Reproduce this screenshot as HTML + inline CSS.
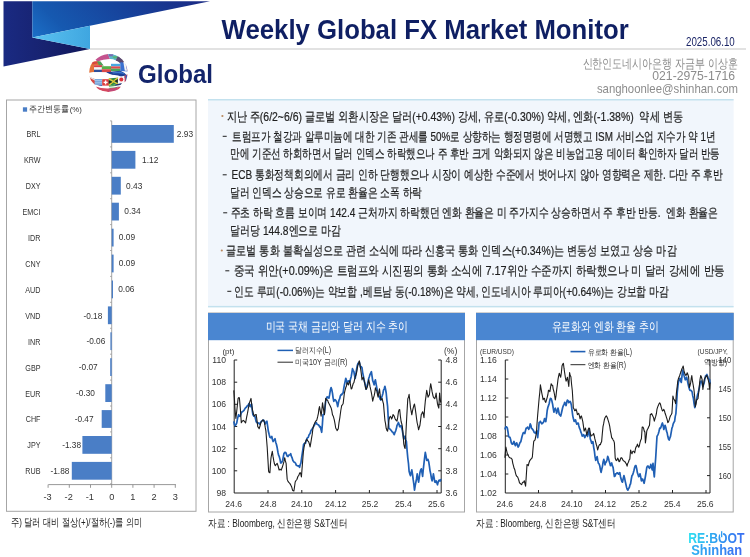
<!DOCTYPE html>
<html lang="ko">
<head>
<meta charset="utf-8">
<title>Weekly Global FX Market Monitor</title>
<style>
html,body{margin:0;padding:0;background:#fff;}
body{width:750px;height:557px;position:relative;overflow:hidden;font-family:"Liberation Sans",sans-serif;}
svg{position:absolute;left:0;top:0;display:block;filter:blur(0.45px);}
svg text{font-family:"Liberation Sans",sans-serif;}
</style>
</head>
<body>
<svg width="750" height="557" viewBox="0 0 750 557">
  <defs>
    <linearGradient id="gmid" gradientUnits="userSpaceOnUse" x1="32" y1="37" x2="132" y2="-63">
      <stop offset="0" stop-color="#1c70c8"/>
      <stop offset="0.2" stop-color="#1659b0"/>
      <stop offset="0.6" stop-color="#17429b"/>
      <stop offset="1" stop-color="#1a2c86"/>
    </linearGradient>
    <linearGradient id="gnavy" x1="0" y1="0" x2="1" y2="0">
      <stop offset="0" stop-color="#1a2a82"/>
      <stop offset="0.5" stop-color="#17226f"/>
      <stop offset="1" stop-color="#0f1558"/>
    </linearGradient>
    <linearGradient id="glight" x1="0" y1="0" x2="1" y2="0">
      <stop offset="0" stop-color="#5cc3f1"/>
      <stop offset="1" stop-color="#3fa6e0"/>
    </linearGradient>
    <linearGradient id="greboot" gradientUnits="userSpaceOnUse" x1="688" y1="0" x2="745" y2="0">
      <stop offset="0" stop-color="#2ee3f2"/>
      <stop offset="0.5" stop-color="#2f9df0"/>
      <stop offset="1" stop-color="#3a6cf2"/>
    </linearGradient>
    <linearGradient id="gshin" gradientUnits="userSpaceOnUse" x1="690" y1="0" x2="743" y2="0">
      <stop offset="0" stop-color="#2fb4f2"/>
      <stop offset="1" stop-color="#3a6cf2"/>
    </linearGradient>
    <clipPath id="globeclip"><circle cx="108.4" cy="72.8" r="19.2"/></clipPath>
    <filter id="soft" x="-10%" y="-10%" width="120%" height="120%"><feGaussianBlur stdDeviation="0.6"/></filter>
  </defs>

  <!-- header decoration -->
  <polygon points="3.5,1.2 32.3,1.2 32.3,37.6 90,49 3.5,66.4" fill="url(#gnavy)"/>
  <polygon points="32.3,1.2 210,1.2 90,25.8 32.3,37.6" fill="url(#gmid)"/>
  <polygon points="32.3,37.6 90,25.8 90,49" fill="url(#glight)"/>
  <rect x="90" y="48" width="656" height="2" fill="#e2e2e2"/>

<text x="221.6" y="38.6" font-size="27" fill="#0f1f63" font-weight="bold" textLength="407.2" lengthAdjust="spacingAndGlyphs" xml:space="preserve">Weekly Global FX Market Monitor</text>
<text x="686" y="45.7" font-size="13" fill="#1a2466" textLength="48.8" lengthAdjust="spacingAndGlyphs" xml:space="preserve">2025.06.10</text>
<text x="138" y="82.5" font-size="26.5" fill="#13246b" font-weight="bold" textLength="75" lengthAdjust="spacingAndGlyphs" xml:space="preserve">Global</text>
<text x="582.5" y="67.6" font-size="12.6" fill="#8c8c8c" textLength="155.0" lengthAdjust="spacingAndGlyphs" xml:space="preserve">신한인도네시아은행 자금부 이상훈</text>
<text x="652.3" y="80" font-size="13" fill="#8c8c8c" textLength="82.8" lengthAdjust="spacingAndGlyphs" xml:space="preserve">021-2975-1716</text>
<text x="596.9" y="92.6" font-size="13" fill="#8c8c8c" textLength="141.1" lengthAdjust="spacingAndGlyphs" xml:space="preserve">sanghoonlee@shinhan.com</text>

  <!-- globe -->
  <g clip-path="url(#globeclip)" filter="url(#soft)">
    <rect x="88" y="52" width="42" height="42" fill="#fff"/>
    <!-- band 1 : top ribbon -->
    <path d="M95.5,59.8 Q100,55 108,54 L110,59 Q103,59 97.5,61.6 Z" fill="#c4528e"/>
    <path d="M108,54 Q113,53.8 118,56 L116,60.4 Q113,59 110,59 Z" fill="#5ab4c8"/>
    <path d="M109,54.2 L113.5,54.3 L112.5,56.3 L108.5,56.2 Z" fill="#7a6ab0"/>
    <path d="M112,56.5 L117,56 L118.5,58 L114,58.6 Z" fill="#58b478"/>
    <path d="M115.6,60.4 L118,56 Q123,58.5 125.5,63 L120.4,63.5 Q118.6,61.4 115.6,60.4 Z" fill="#5a4870"/>
    <!-- band 2 : middle -->
    <path d="M89,66 Q90.5,62.5 94,61.6 L100,61.2 L103.5,65.3 L94,65.3 L94,72 L88.5,72.8 Z" fill="#e4723a"/>
    <path d="M92,62.3 L97,61.3 L98,63.3 L92.5,64.6 Z" fill="#d8453f"/>
    <path d="M97,61.3 L101,61.3 L104,65.4 L99,65.4 Z" fill="#4f9f58"/>
    <rect x="94" y="65.2" width="8" height="2.2" fill="#d9404a"/>
    <rect x="94" y="67.4" width="8" height="2.3" fill="#f4f4f4"/>
    <rect x="94" y="69.7" width="8" height="2.4" fill="#2f4f9a"/>
    <rect x="101.8" y="66.2" width="9.2" height="3" fill="#58b04a"/>
    <rect x="101.8" y="69.2" width="9.2" height="3.1" fill="#d9484a"/>
    <rect x="110.9" y="63.6" width="9.6" height="2.8" fill="#4aa8e0"/>
    <rect x="110.9" y="66.4" width="9.6" height="2.3" fill="#e0484f"/>
    <rect x="110.9" y="68.7" width="9.6" height="2.5" fill="#48a85a"/>
    <path d="M120.4,62 L128,63.5 L128.5,71.5 L120.4,70.9 Z" fill="#3a6fd0"/>
    <path d="M123.3,61.8 L125.3,62 L127,70.8 L124.8,70.8 Z" fill="#f4f4f4"/>
    <path d="M126,63 L128.5,64 L128.5,71 L127.3,70.5 Z" fill="#d84a5a"/>
    <!-- band 3 : dark blue swoosh -->
    <path d="M106,72.2 L120.4,70.8 Q125,72.5 128.5,77 L124,78.2 Q118,74.5 110,74.8 Z" fill="#1f3f96"/>
    <path d="M112,72.4 L120,71.6 Q123,72.5 125.5,74.5 Q120,72.8 113,73.6 Z" fill="#3a78d0"/>
    <!-- band 4 : lower -->
    <path d="M88.6,76 Q91,77.3 95,79 L95,84.6 Q91,82 88.6,76 Z" fill="#d84a44"/>
    <path d="M89.5,76.5 Q92,77.6 95,79 L95,80.4 Q92,79.4 90,78 Z" fill="#e8e0e0"/>
    <rect x="94.7" y="79" width="7.6" height="5.8" fill="#7aa8dc"/>
    <rect x="94.7" y="80.2" width="7.6" height="0.8" fill="#a8c8ec"/>
    <rect x="94.7" y="82.4" width="7.6" height="0.8" fill="#a8c8ec"/>
    <rect x="102.2" y="79.2" width="6.7" height="6.4" fill="#de3b3b"/>
    <rect x="104.9" y="80.4" width="1.4" height="4" fill="#fff"/>
    <rect x="103.6" y="81.7" width="4" height="1.4" fill="#fff"/>
    <path d="M108.8,78.6 L118,77.6 L118,84.3 L108.8,85.4 Z" fill="#2f8a45"/>
    <path d="M108.8,78.6 L118,84.3 M108.8,85.4 L118,77.6" stroke="#e9c93a" stroke-width="1.3"/>
    <path d="M108.8,80.6 L112.4,82 L108.8,83.6 Z M118,79.2 L114.4,81 L118,82.8 Z" fill="#222"/>
    <path d="M117.9,77 L124.6,75.8 L124.6,82.2 L117.9,83.6 Z" fill="#f8f8f8"/>
    <circle cx="121.3" cy="79.6" r="2" fill="#e0303a"/>
    <path d="M124.6,75.6 L128.5,74 L128.5,80 L124.6,82.2 Z" fill="#d84050"/>
    <path d="M125.6,75.4 L127,74.8 L127,80.8 L125.6,81.4 Z" fill="#3a5ab0"/>
    <path d="M96,84.8 L102.2,84.8 L102.2,86 Q99,86 96,84.8 Z" fill="#4a6ab0"/>
    <path d="M108.8,85.4 L118.6,84 L117,88.6 L109.5,89 Z" fill="#4f9f58"/>
    <path d="M115.5,84.4 L122,83 L119.5,86.5 L115,87.2 Z" fill="#2a3570"/>
    <!-- band 5 : bottom -->
    <path d="M95.8,86.6 Q106,90.6 121,86.6 L118.5,90 Q107,94 98.5,89.8 Z" fill="#d64a60"/>
    <path d="M108,89.6 L117,87.8 L116,90.4 L108.5,91.6 Z" fill="#c04a7a"/>
    <!-- white gaps -->
    <path d="M98.6,61.2 Q106,58.6 115.6,60.4 L120,63.4 L110.9,63.4 L110.9,66 L104,66 L100.5,61.2 Z" fill="#fff"/>
    <path d="M88,73.4 Q96,71.6 106,72.6 Q112,75 118,77.3 Q108,78 95,78.6 Q91,77.4 88,75.6 Z" fill="#fff"/>
    <path d="M95.5,85.6 Q106,89.4 121.5,85.4" stroke="#fff" stroke-width="1.1" fill="none"/>
  </g>


  <!-- bar chart -->
  <rect x="6.5" y="100" width="189.5" height="411.3" fill="#fff" stroke="#a6a6a6" stroke-width="1"/>
  <rect x="22.9" y="107.3" width="4.2" height="4.4" fill="#4a7ec6"/>

<text x="29.3" y="112.3" font-size="9" fill="#333" textLength="40.2" lengthAdjust="spacingAndGlyphs" xml:space="preserve">주간변동률</text>
<text x="69.7" y="112.3" font-size="7.6" fill="#333" textLength="12.1" lengthAdjust="spacingAndGlyphs" xml:space="preserve">(%)</text>
  <line x1="111.7" y1="120.8" x2="111.7" y2="484.6" stroke="#9a9a9a" stroke-width="0.9"/>
  <g fill="#4a7ec6">
    <rect x="111.7" y="125.0" width="62.1" height="17.8"/>
    <rect x="111.7" y="150.9" width="23.7" height="17.8"/>
    <rect x="111.7" y="176.8" width="9.1" height="17.8"/>
    <rect x="111.7" y="202.7" width="7.2" height="17.8"/>
    <rect x="111.7" y="228.7" width="1.9" height="17.8"/>
    <rect x="111.7" y="254.6" width="1.9" height="17.8"/>
    <rect x="111.7" y="280.5" width="1.3" height="17.8"/>
    <rect x="107.9" y="306.4" width="3.8" height="17.8"/>
    <rect x="110.4" y="332.3" width="1.3" height="17.8"/>
    <rect x="110.2" y="358.2" width="1.5" height="17.8"/>
    <rect x="105.3" y="384.2" width="6.4" height="17.8"/>
    <rect x="101.7" y="410.1" width="10.0" height="17.8"/>
    <rect x="82.4" y="436.0" width="29.3" height="17.8"/>
    <rect x="71.8" y="461.9" width="39.9" height="17.8"/>
  </g>
  <g font-size="9.2" fill="#333" text-anchor="end">
    <text x="26.5" y="137.3" font-size="9.5" fill="#333" textLength="14.0" lengthAdjust="spacingAndGlyphs" text-anchor="start" xml:space="preserve">BRL</text>
    <text x="23.9" y="163.2" font-size="9.5" fill="#333" textLength="16.6" lengthAdjust="spacingAndGlyphs" text-anchor="start" xml:space="preserve">KRW</text>
    <text x="25.7" y="189.1" font-size="9.5" fill="#333" textLength="14.8" lengthAdjust="spacingAndGlyphs" text-anchor="start" xml:space="preserve">DXY</text>
    <text x="22.6" y="215.0" font-size="9.5" fill="#333" textLength="17.9" lengthAdjust="spacingAndGlyphs" text-anchor="start" xml:space="preserve">EMCI</text>
    <text x="28.1" y="241.0" font-size="9.5" fill="#333" textLength="12.4" lengthAdjust="spacingAndGlyphs" text-anchor="start" xml:space="preserve">IDR</text>
    <text x="25.3" y="266.9" font-size="9.5" fill="#333" textLength="15.2" lengthAdjust="spacingAndGlyphs" text-anchor="start" xml:space="preserve">CNY</text>
    <text x="25.3" y="292.8" font-size="9.5" fill="#333" textLength="15.2" lengthAdjust="spacingAndGlyphs" text-anchor="start" xml:space="preserve">AUD</text>
    <text x="25.3" y="318.7" font-size="9.5" fill="#333" textLength="15.2" lengthAdjust="spacingAndGlyphs" text-anchor="start" xml:space="preserve">VND</text>
    <text x="28.1" y="344.6" font-size="9.5" fill="#333" textLength="12.4" lengthAdjust="spacingAndGlyphs" text-anchor="start" xml:space="preserve">INR</text>
    <text x="25.3" y="370.5" font-size="9.5" fill="#333" textLength="15.2" lengthAdjust="spacingAndGlyphs" text-anchor="start" xml:space="preserve">GBP</text>
    <text x="25.3" y="396.5" font-size="9.5" fill="#333" textLength="15.2" lengthAdjust="spacingAndGlyphs" text-anchor="start" xml:space="preserve">EUR</text>
    <text x="25.8" y="422.4" font-size="9.5" fill="#333" textLength="14.7" lengthAdjust="spacingAndGlyphs" text-anchor="start" xml:space="preserve">CHF</text>
    <text x="27.3" y="448.3" font-size="9.5" fill="#333" textLength="13.2" lengthAdjust="spacingAndGlyphs" text-anchor="start" xml:space="preserve">JPY</text>
    <text x="25.3" y="474.2" font-size="9.5" fill="#333" textLength="15.2" lengthAdjust="spacingAndGlyphs" text-anchor="start" xml:space="preserve">RUB</text>
  </g>
<text x="176.8" y="136.7" font-size="9.6" fill="#333" textLength="16.3" lengthAdjust="spacingAndGlyphs" xml:space="preserve">2.93</text>
<text x="142" y="162.6" font-size="9.6" fill="#333" textLength="16.3" lengthAdjust="spacingAndGlyphs" xml:space="preserve">1.12</text>
<text x="126" y="188.5" font-size="9.6" fill="#333" textLength="16.3" lengthAdjust="spacingAndGlyphs" xml:space="preserve">0.43</text>
<text x="124.3" y="214.4" font-size="9.6" fill="#333" textLength="16.3" lengthAdjust="spacingAndGlyphs" xml:space="preserve">0.34</text>
<text x="118.8" y="240.4" font-size="9.6" fill="#333" textLength="16.3" lengthAdjust="spacingAndGlyphs" xml:space="preserve">0.09</text>
<text x="118.8" y="266.3" font-size="9.6" fill="#333" textLength="16.3" lengthAdjust="spacingAndGlyphs" xml:space="preserve">0.09</text>
<text x="118.2" y="292.2" font-size="9.6" fill="#333" textLength="16.3" lengthAdjust="spacingAndGlyphs" xml:space="preserve">0.06</text>
<text x="83.4" y="318.5" font-size="9.6" fill="#333" textLength="18.9" lengthAdjust="spacingAndGlyphs" xml:space="preserve">-0.18</text>
<text x="86.4" y="344.4" font-size="9.6" fill="#333" textLength="18.9" lengthAdjust="spacingAndGlyphs" xml:space="preserve">-0.06</text>
<text x="78.80000000000001" y="370.3" font-size="9.6" fill="#333" textLength="18.9" lengthAdjust="spacingAndGlyphs" xml:space="preserve">-0.07</text>
<text x="76.0" y="396.3" font-size="9.6" fill="#333" textLength="18.9" lengthAdjust="spacingAndGlyphs" xml:space="preserve">-0.30</text>
<text x="74.69999999999999" y="422.2" font-size="9.6" fill="#333" textLength="18.9" lengthAdjust="spacingAndGlyphs" xml:space="preserve">-0.47</text>
<text x="62.199999999999996" y="448.1" font-size="9.6" fill="#333" textLength="18.9" lengthAdjust="spacingAndGlyphs" xml:space="preserve">-1.38</text>
<text x="50.50000000000001" y="474.0" font-size="9.6" fill="#333" textLength="18.9" lengthAdjust="spacingAndGlyphs" xml:space="preserve">-1.88</text>
  <g stroke="#9a9a9a" stroke-width="0.8">
    <line x1="110" y1="120.9" x2="111.7" y2="120.9"/>
    <line x1="110" y1="146.9" x2="111.7" y2="146.9"/>
    <line x1="110" y1="172.8" x2="111.7" y2="172.8"/>
    <line x1="110" y1="198.7" x2="111.7" y2="198.7"/>
    <line x1="110" y1="224.6" x2="111.7" y2="224.6"/>
    <line x1="110" y1="250.5" x2="111.7" y2="250.5"/>
    <line x1="110" y1="276.4" x2="111.7" y2="276.4"/>
    <line x1="110" y1="302.3" x2="111.7" y2="302.3"/>
    <line x1="110" y1="328.3" x2="111.7" y2="328.3"/>
    <line x1="110" y1="354.2" x2="111.7" y2="354.2"/>
    <line x1="110" y1="380.1" x2="111.7" y2="380.1"/>
    <line x1="110" y1="406.0" x2="111.7" y2="406.0"/>
    <line x1="110" y1="431.9" x2="111.7" y2="431.9"/>
    <line x1="110" y1="457.8" x2="111.7" y2="457.8"/>
    <line x1="110" y1="483.8" x2="111.7" y2="483.8"/>
  </g>
  <g>
  </g>
  <line x1="48.3" y1="484.6" x2="175.9" y2="484.6" stroke="#8c8c8c" stroke-width="0.9"/>
  <g stroke="#8c8c8c" stroke-width="0.9">
    <line x1="48.1" y1="484.6" x2="48.1" y2="487.8"/>
    <line x1="69.3" y1="484.6" x2="69.3" y2="487.8"/>
    <line x1="90.5" y1="484.6" x2="90.5" y2="487.8"/>
    <line x1="111.7" y1="484.6" x2="111.7" y2="487.8"/>
    <line x1="132.9" y1="484.6" x2="132.9" y2="487.8"/>
    <line x1="154.1" y1="484.6" x2="154.1" y2="487.8"/>
    <line x1="175.3" y1="484.6" x2="175.3" y2="487.8"/>
  </g>
  <g font-size="9.2" fill="#333" text-anchor="middle">
    <text x="47.5" y="500.3">-3</text>
    <text x="68.7" y="500.3">-2</text>
    <text x="89.9" y="500.3">-1</text>
    <text x="111.7" y="500.3">0</text>
    <text x="132.9" y="500.3">1</text>
    <text x="154.1" y="500.3">2</text>
    <text x="175.3" y="500.3">3</text>
  </g>
<text x="10.8" y="525.8" font-size="10.5" fill="#222" textLength="131.5" lengthAdjust="spacingAndGlyphs" xml:space="preserve">주) 달러 대비 절상(+)/절하(-)를 의미</text>

  <!-- text box -->
  <rect x="208" y="99" width="525.6" height="208" fill="#f1f6fc"/>
  <rect x="208" y="99" width="525.6" height="1.5" fill="#c3e1ee"/>
  <rect x="208" y="305.9" width="525.6" height="1.5" fill="#c3e1ee"/>

<text x="226.5" y="120.7" font-size="13.4" fill="#1f1f1f" textLength="456.5" lengthAdjust="spacingAndGlyphs" stroke="#1f1f1f" stroke-width="0.22" xml:space="preserve">지난 주(6/2~6/6) 글로벌 외환시장은 달러(+0.43%) 강세, 유로(-0.30%) 약세, 엔화(-1.38%)  약세 변동</text>
  <circle cx="222.4" cy="116" r="1.1" fill="#b9895f"/>
<text x="232" y="140.7" font-size="13.4" fill="#1f1f1f" textLength="483.6" lengthAdjust="spacingAndGlyphs" stroke="#1f1f1f" stroke-width="0.22" xml:space="preserve">트럼프가 철강과 알루미늄에 대한 기존 관세를 50%로 상향하는 행정명령에 서명했고 ISM 서비스업 지수가 약 1년</text>
  <rect x="222.7" y="135.8" width="4" height="1" fill="#1f1f1f"/>
<text x="230.2" y="158.2" font-size="13.4" fill="#1f1f1f" textLength="489.8" lengthAdjust="spacingAndGlyphs" stroke="#1f1f1f" stroke-width="0.22" xml:space="preserve">만에 기준선 하회하면서 달러 인덱스 하락했으나 주 후반 크게 악화되지 않은 비농업고용 데이터 확인하자 달러 반등</text>
<text x="231.5" y="179.2" font-size="13.4" fill="#1f1f1f" textLength="491.5" lengthAdjust="spacingAndGlyphs" stroke="#1f1f1f" stroke-width="0.22" xml:space="preserve">ECB 통화정책회의에서 금리 인하 단행했으나 시장이 예상한 수준에서 벗어나지 않아 영향력은 제한. 다만 주 후반</text>
  <rect x="222.7" y="174.3" width="4" height="1" fill="#1f1f1f"/>
<text x="230" y="197.2" font-size="13.4" fill="#1f1f1f" textLength="192" lengthAdjust="spacingAndGlyphs" stroke="#1f1f1f" stroke-width="0.22" xml:space="preserve">달러 인덱스 상승으로 유로 환율은 소폭 하락</text>
<text x="230.7" y="217.2" font-size="13.4" fill="#1f1f1f" textLength="487.3" lengthAdjust="spacingAndGlyphs" stroke="#1f1f1f" stroke-width="0.22" xml:space="preserve">주초 하락 흐름 보이며 142.4 근처까지 하락했던 엔화 환율은 미 주가지수 상승하면서 주 후반 반등.  엔화 환율은</text>
  <rect x="223.2" y="212.3" width="4" height="1" fill="#1f1f1f"/>
<text x="230.3" y="234.7" font-size="13.4" fill="#1f1f1f" textLength="110.7" lengthAdjust="spacingAndGlyphs" stroke="#1f1f1f" stroke-width="0.22" xml:space="preserve">달러당 144.8엔으로 마감</text>
<text x="226.3" y="255.2" font-size="13.4" fill="#1f1f1f" textLength="450.3" lengthAdjust="spacingAndGlyphs" stroke="#1f1f1f" stroke-width="0.22" xml:space="preserve">글로벌 통화 불확실성으로 관련 소식에 따라 신흥국 통화 인덱스(+0.34%)는 변동성 보였고 상승 마감</text>
  <circle cx="221.8" cy="250.5" r="1.1" fill="#b9895f"/>
<text x="233.6" y="275.2" font-size="13.4" fill="#1f1f1f" textLength="491.0" lengthAdjust="spacingAndGlyphs" stroke="#1f1f1f" stroke-width="0.22" xml:space="preserve">중국 위안(+0.09%)은 트럼프와 시진핑의 통화 소식에 7.17위안 수준까지 하락했으나 미 달러 강세에 반등</text>
  <rect x="225.3" y="270.3" width="4" height="1" fill="#1f1f1f"/>
<text x="234.2" y="295.7" font-size="13.4" fill="#1f1f1f" textLength="434.4" lengthAdjust="spacingAndGlyphs" stroke="#1f1f1f" stroke-width="0.22" xml:space="preserve">인도 루피(-0.06%)는 약보합 ,베트남 동(-0.18%)은 약세, 인도네시아 루피아(+0.64%)는 강보합 마감</text>
  <rect x="227.3" y="290.8" width="4" height="1" fill="#1f1f1f"/>

  <!-- chart 1 -->
  <rect x="208.5" y="313" width="256" height="199" fill="#fff" stroke="#a6a6a6" stroke-width="1"/>
  <rect x="208" y="313" width="257" height="27.2" fill="#4a86d1"/>

<text x="265.5" y="330.6" font-size="12.6" fill="#ffffff" textLength="142.5" lengthAdjust="spacingAndGlyphs" xml:space="preserve">미국 국채 금리와 달러 지수 추이</text>
  <g font-size="8.6" fill="#333">
    <text x="222.4" y="354" font-size="8">(pt)</text>
    <text x="444" y="354">(%)</text>
    <g text-anchor="end">
      <text x="226" y="363.0">110</text>
      <text x="226" y="385.2">108</text>
      <text x="226" y="407.3">106</text>
      <text x="226" y="429.5">104</text>
      <text x="226" y="451.7">102</text>
      <text x="226" y="473.9">100</text>
      <text x="226" y="496.0">98</text>
    </g>
    <text x="445.5" y="363.0">4.8</text>
    <text x="445.5" y="385.2">4.6</text>
    <text x="445.5" y="407.3">4.4</text>
    <text x="445.5" y="429.5">4.2</text>
    <text x="445.5" y="451.7">4.0</text>
    <text x="445.5" y="473.9">3.8</text>
    <text x="445.5" y="496.0">3.6</text>
    <g text-anchor="middle">
      <text x="233.7" y="507.3">24.6</text>
      <text x="268.2" y="507.3">24.8</text>
      <text x="301.8" y="507.3">24.10</text>
      <text x="335.8" y="507.3">24.12</text>
      <text x="370" y="507.3">25.2</text>
      <text x="403.4" y="507.3">25.4</text>
      <text x="436.4" y="507.3">25.6</text>
    </g>
  </g>
<text x="295" y="353.4" font-size="8.2" fill="#333" textLength="36" lengthAdjust="spacingAndGlyphs" xml:space="preserve">달러지수(L)</text>
<text x="295" y="365.3" font-size="8.2" fill="#333" textLength="52.5" lengthAdjust="spacingAndGlyphs" xml:space="preserve">미국10Y 금리(R)</text>
  <g stroke="#222" stroke-width="1" fill="none">
    <path d="M234.2,360 V493 H441.2 V360"/>
    <path d="M234.2,360 h3 M234.2,382.2 h3 M234.2,404.3 h3 M234.2,426.5 h3 M234.2,448.7 h3 M234.2,470.8 h3"/>
    <path d="M441.2,360 h-3 M441.2,382.2 h-3 M441.2,404.3 h-3 M441.2,426.5 h-3 M441.2,448.7 h-3 M441.2,470.8 h-3"/>
    <path d="M268,493 v-3 M301.8,493 v-3 M335.6,493 v-3 M369.4,493 v-3 M403.2,493 v-3 M437,493 v-3"/>
  </g>
  <line x1="277.5" y1="350.4" x2="293" y2="350.4" stroke="#1f5fb4" stroke-width="1.5"/>
  <line x1="277.5" y1="362.2" x2="293" y2="362.2" stroke="#2a2a2a" stroke-width="1"/>
  <polyline points="233.8,421.4 234.4,424.2 234.9,425.6 235.8,424.8 236.7,423.1 237.6,418.3 238.6,414.7 239.4,416.2 240.2,416.3 241.1,413.4 242.1,411.8 243.1,411.2 244.0,410.4 244.8,408.9 245.6,407.7 246.6,407.0 247.5,405.5 248.2,405.3 248.9,403.7 249.6,405.6 250.2,406.7 250.9,404.6 251.6,404.1 252.2,410.1 252.9,414.5 253.9,416.2 254.8,416.0 255.5,418.7 256.2,421.7 257.0,422.7 257.8,422.6 258.8,423.3 259.7,424.1 260.6,422.5 261.5,421.2 262.6,420.4 263.7,420.2 264.4,421.2 265.0,424.1 265.9,422.6 266.9,421.1 267.6,425.8 268.3,431.0 269.1,434.3 269.9,437.3 270.9,437.8 271.8,436.5 272.5,439.8 273.1,441.5 274.1,439.9 275.0,438.7 275.7,442.2 276.4,444.3 277.2,447.8 278.0,452.5 278.6,455.2 279.3,456.7 280.0,459.4 280.7,463.0 281.6,462.6 282.6,460.5 283.2,457.5 283.9,453.6 284.9,452.4 285.8,452.6 286.5,454.4 287.2,456.2 288.0,456.6 288.8,455.2 289.8,455.0 290.7,453.6 291.4,456.4 292.0,457.5 292.9,460.5 293.9,461.9 294.7,462.3 295.5,463.2 296.4,465.3 297.4,465.8 298.5,465.9 299.6,467.3 300.2,464.8 300.9,463.0 301.6,457.9 302.3,453.5 303.0,448.6 303.6,444.3 304.6,443.3 305.5,443.2 306.1,440.6 306.8,439.0 307.5,437.7 308.2,437.5 309.1,434.7 310.1,433.5 310.9,430.7 311.7,429.6 312.6,428.2 313.6,426.6 314.6,424.8 315.5,423.1 316.3,422.7 317.1,424.3 318.1,424.7 319.0,425.5 319.6,426.8 320.3,426.7 321.0,429.5 321.7,432.3 322.4,424.3 323.0,414.6 323.7,414.6 324.4,413.5 325.0,407.5 325.7,401.1 326.4,398.9 327.1,396.9 328.0,397.2 328.9,398.2 329.6,394.9 330.3,390.3 331.1,387.5 331.8,389.7 332.5,393.3 333.1,397.8 333.8,401.3 334.4,400.2 335.0,399.7 335.6,400.2 336.3,401.2 337.0,403.3 337.7,406.6 338.4,402.8 339.0,400.2 339.7,398.7 340.4,395.8 341.0,394.7 341.7,394.8 342.4,393.5 343.1,393.0 343.8,388.2 344.4,384.9 345.1,381.6 345.8,378.3 346.5,380.5 347.1,383.7 347.8,381.5 348.5,380.9 349.1,381.0 349.8,382.3 350.5,378.9 351.2,376.7 351.9,372.6 352.5,368.7 353.2,370.4 353.9,371.6 354.5,375.4 355.2,378.4 355.9,374.0 356.6,369.1 357.2,366.0 357.9,363.4 358.6,363.7 359.3,361.9 360.0,365.2 360.6,367.6 361.3,366.7 362.0,367.7 362.6,372.3 363.3,375.7 364.0,379.4 364.7,382.6 365.4,385.1 366.0,389.1 366.7,387.1 367.4,385.2 368.0,382.2 368.7,378.5 369.4,376.5 370.0,374.5 370.7,373.3 371.4,371.7 372.0,375.8 372.7,380.7 373.4,382.3 374.1,384.9 374.8,381.6 375.4,379.9 376.1,383.8 376.8,387.8 377.5,391.3 378.1,394.6 378.8,395.8 379.5,396.9 380.1,399.1 380.8,400.0 381.5,397.9 382.2,395.8 382.9,393.4 383.5,390.1 384.2,388.8 384.9,386.3 385.5,389.0 386.2,393.0 386.9,400.3 387.6,406.4 388.2,417.8 388.9,428.5 389.6,428.8 390.3,429.4 391.0,430.2 391.6,431.0 392.3,432.0 393.0,432.3 393.6,433.8 394.3,434.6 395.0,432.3 395.7,430.8 396.4,428.6 397.0,425.4 397.7,424.3 398.4,422.5 399.0,424.0 399.7,426.7 400.4,426.5 401.1,425.6 401.8,428.5 402.4,430.8 403.1,435.0 403.8,439.0 404.5,437.6 405.1,436.1 405.8,439.7 406.4,441.5 407.1,450.6 407.8,458.1 408.5,463.7 409.1,471.3 409.8,473.9 410.5,475.7 411.1,472.6 411.8,469.9 412.5,474.2 413.2,479.7 413.9,484.3 414.5,490.2 415.2,485.5 415.9,482.1 416.5,478.9 417.2,473.8 417.9,478.6 418.6,482.1 419.2,478.1 419.9,472.8 420.6,470.2 421.3,468.8 422.0,472.6 422.6,476.4 423.3,469.1 424.0,463.2 424.6,457.8 425.3,452.4 426.0,455.9 426.7,460.4 427.4,459.5 428.0,459.4 428.7,461.7 429.4,466.1 430.0,470.6 430.7,473.8 431.4,478.2 432.1,480.9 432.8,478.1 433.4,473.9 434.1,477.8 434.8,482.0 435.5,482.3 436.1,480.9 436.8,482.5 437.5,484.8 438.1,482.4 438.8,480.5 439.5,480.1 440.1,481.0 440.8,479.7 441.5,479.7" fill="none" stroke="#1f5fb4" stroke-width="1.7" stroke-linejoin="round"/>
  <polyline points="233.8,390.4 234.4,398.9 234.9,407.8 235.4,413.7 235.9,418.5 237.0,408.7 238.1,398.4 238.8,397.5 239.4,398.0 240.4,409.6 241.3,422.8 242.4,420.9 243.5,420.4 244.6,421.6 245.6,423.0 246.6,417.4 247.5,413.2 248.4,408.2 249.4,402.9 250.2,400.7 251.0,398.4 251.8,405.5 252.6,410.4 253.4,414.0 254.3,416.0 255.2,414.8 256.2,414.5 257.0,420.4 257.8,427.0 258.5,427.2 259.1,428.7 260.1,425.8 261.0,422.2 261.9,421.3 262.9,419.8 263.7,420.7 264.5,422.6 265.2,427.2 265.9,430.9 266.5,438.7 267.2,447.2 267.9,459.1 268.6,471.2 269.2,472.5 269.9,472.8 270.4,464.8 271.0,457.8 271.6,454.5 272.3,451.3 273.0,456.2 273.7,460.4 274.5,464.1 275.3,465.7 276.2,464.4 277.2,463.4 278.1,466.0 279.1,470.0 280.1,469.2 281.2,470.1 282.1,467.8 283.1,464.6 283.9,461.9 284.7,457.7 285.4,460.9 286.1,463.3 286.6,471.4 287.2,479.4 288.0,481.4 288.8,482.4 289.8,483.4 290.7,484.9 291.6,486.7 292.6,490.3 293.2,490.7 293.9,491.0 294.5,487.0 295.2,482.0 296.0,480.5 296.9,479.5 297.9,476.5 298.8,475.4 299.5,473.5 300.1,472.5 300.8,473.9 301.4,476.9 301.9,470.6 302.3,465.7 302.8,459.0 303.3,452.7 304.1,447.0 305.0,443.0 305.9,441.1 306.8,439.2 307.8,440.9 308.7,441.9 309.4,444.0 310.1,447.0 310.8,442.8 311.4,439.2 312.2,434.4 313.0,428.0 313.9,424.9 314.9,422.6 315.9,421.0 316.8,420.1 317.6,416.9 318.4,413.3 318.9,409.1 319.5,406.6 320.3,411.1 321.1,416.1 321.8,410.2 322.5,402.7 323.4,408.7 324.4,414.8 325.0,406.9 325.7,398.2 326.6,399.9 327.6,400.1 328.4,402.6 329.2,404.1 330.1,405.8 331.1,407.9 331.8,410.6 332.5,414.8 333.4,416.6 334.3,419.8 335.0,423.6 335.7,428.0 336.4,429.3 337.2,430.6 337.7,429.3 338.2,429.3 339.0,422.7 339.9,417.3 340.8,410.5 341.7,405.5 342.4,404.8 343.1,403.7 343.8,398.1 344.4,393.0 345.1,390.2 345.8,387.5 346.5,385.7 347.1,382.7 347.8,383.6 348.5,385.0 349.1,382.3 349.8,380.8 350.5,384.8 351.2,389.0 351.9,388.3 352.5,386.2 353.2,383.5 353.9,382.7 354.5,379.8 355.2,376.8 355.9,375.0 356.6,372.6 357.2,368.9 357.9,365.1 358.6,363.5 359.3,360.9 360.0,364.4 360.6,368.8 361.3,373.7 362.0,379.9 362.6,378.4 363.3,377.2 364.0,380.0 364.7,383.5 365.4,387.0 366.0,389.4 366.7,388.4 367.4,386.6 368.0,383.6 368.7,379.8 369.4,382.6 370.0,386.4 370.7,389.5 371.4,392.8 372.0,396.3 372.7,401.1 373.4,398.1 374.1,395.9 374.8,392.6 375.4,387.7 376.1,389.8 376.8,390.7 377.5,394.6 378.1,397.1 378.8,392.6 379.5,388.9 380.1,394.0 380.8,399.7 381.5,399.4 382.2,398.7 382.9,401.8 383.5,403.9 384.2,412.3 384.9,420.3 385.5,423.4 386.2,428.3 386.9,430.3 387.6,431.1 388.2,426.0 388.9,420.1 389.6,417.5 390.3,416.3 391.0,417.1 391.6,419.0 392.3,417.6 393.0,414.6 393.6,415.2 394.3,416.4 395.0,418.5 395.7,419.9 396.4,420.1 397.0,421.2 397.7,417.4 398.4,412.2 399.0,410.0 399.7,409.5 400.4,416.2 401.1,421.5 401.8,423.8 402.4,426.8 403.1,434.9 403.8,444.1 404.5,447.2 405.1,448.5 405.8,435.6 406.4,423.1 407.1,410.5 407.8,398.7 408.5,397.1 409.1,394.3 409.8,400.8 410.5,407.9 411.1,410.9 411.8,414.8 412.5,410.9 413.2,408.0 413.9,405.3 414.5,404.1 415.2,408.4 415.9,413.4 416.5,418.3 417.2,423.0 417.9,426.0 418.6,429.8 419.2,427.5 419.9,425.5 420.6,420.1 421.3,414.4 422.0,413.2 422.6,411.8 423.3,413.8 424.0,417.6 424.6,408.7 425.3,401.2 426.0,396.2 426.7,390.4 427.4,393.5 428.0,397.2 428.7,395.9 429.4,394.7 430.0,388.4 430.7,383.7 431.4,387.3 432.1,391.7 432.8,395.0 433.4,397.2 434.1,398.0 434.8,398.7 435.5,396.5 436.1,393.1 436.8,398.7 437.5,403.9 438.1,406.0 438.8,408.1 439.6,393.1 440.1,397.9 440.7,402.6" fill="none" stroke="#1c1c1c" stroke-width="1.1" stroke-linejoin="round"/>
<text x="208" y="527" font-size="10.6" fill="#222" textLength="139.6" lengthAdjust="spacingAndGlyphs" xml:space="preserve">자료 : Bloomberg, 신한은행 S&amp;T센터</text>

  <!-- chart 2 -->
  <rect x="476.5" y="313" width="256.7" height="199" fill="#fff" stroke="#a6a6a6" stroke-width="1"/>
  <rect x="476" y="313" width="257.7" height="27.2" fill="#4a86d1"/>

<text x="551.5" y="330.6" font-size="12.6" fill="#ffffff" textLength="107.0" lengthAdjust="spacingAndGlyphs" xml:space="preserve">유로화와 엔화 환율 추이</text>
<text x="480" y="354" font-size="8" fill="#333" textLength="33.9" lengthAdjust="spacingAndGlyphs" xml:space="preserve">(EUR/USD)</text>
<text x="697.6" y="354" font-size="8" fill="#333" textLength="30.3" lengthAdjust="spacingAndGlyphs" xml:space="preserve">(USD/JPY,</text>
<text x="703.5" y="364.6" font-size="8" fill="#333" textLength="23.5" lengthAdjust="spacingAndGlyphs" xml:space="preserve">역방향)</text>
  <g font-size="8.6" fill="#333">
    <text x="480" y="363.2">1.16</text>
    <text x="480" y="382.2">1.14</text>
    <text x="480" y="401.2">1.12</text>
    <text x="480" y="420.2">1.10</text>
    <text x="480" y="439.2">1.08</text>
    <text x="480" y="458.2">1.06</text>
    <text x="480" y="477.2">1.04</text>
    <text x="480" y="496.2">1.02</text>
    <text x="718.6" y="363.2" textLength="12.6" lengthAdjust="spacingAndGlyphs">140</text>
    <text x="718.6" y="392.1" textLength="12.6" lengthAdjust="spacingAndGlyphs">145</text>
    <text x="718.6" y="421.0" textLength="12.6" lengthAdjust="spacingAndGlyphs">150</text>
    <text x="718.6" y="449.9" textLength="12.6" lengthAdjust="spacingAndGlyphs">155</text>
    <text x="718.6" y="478.8" textLength="12.6" lengthAdjust="spacingAndGlyphs">160</text>
    <g text-anchor="middle">
      <text x="504.8" y="507.3">24.6</text>
      <text x="538" y="507.3">24.8</text>
      <text x="571.8" y="507.3">24.10</text>
      <text x="605.3" y="507.3">24.12</text>
      <text x="638.8" y="507.3">25.2</text>
      <text x="672.3" y="507.3">25.4</text>
      <text x="705.3" y="507.3">25.6</text>
    </g>
  </g>
<text x="587.8" y="354.6" font-size="8.2" fill="#333" textLength="44.2" lengthAdjust="spacingAndGlyphs" xml:space="preserve">유로화 환율(L)</text>
<text x="587.8" y="367.7" font-size="8.2" fill="#333" textLength="38.2" lengthAdjust="spacingAndGlyphs" xml:space="preserve">엔화 환율(R)</text>
  <g stroke="#222" stroke-width="1" fill="none">
    <path d="M505.3,360 V493 H710 V360"/>
    <path d="M505.3,360 h3 M505.3,379 h3 M505.3,398 h3 M505.3,417 h3 M505.3,436 h3 M505.3,455 h3 M505.3,474 h3"/>
    <path d="M710,360 h-3 M710,389 h-3 M710,417.8 h-3 M710,446.7 h-3 M710,475.6 h-3"/>
    <path d="M538.5,493 v-3 M572,493 v-3 M605.5,493 v-3 M639,493 v-3 M672.5,493 v-3 M706,493 v-3"/>
  </g>
  <line x1="570.5" y1="351.6" x2="585.4" y2="351.6" stroke="#1f5fb4" stroke-width="1.6"/>
  <line x1="570.5" y1="364.7" x2="585.4" y2="364.7" stroke="#2a2a2a" stroke-width="1"/>
  <polyline points="504.9,429.5 505.4,427.6 505.9,426.7 506.6,426.9 507.3,428.0 508.0,431.8 508.6,436.4 509.3,437.2 510.0,437.4 510.6,439.4 511.3,442.9 512.0,444.0 512.7,444.2 513.4,442.7 514.0,441.5 514.7,444.2 515.4,445.7 516.0,443.6 516.7,442.8 517.4,444.9 518.1,447.1 518.8,446.0 519.4,444.2 520.1,442.4 520.8,441.8 521.5,438.8 522.1,436.2 522.8,433.9 523.5,432.5 524.1,432.6 524.8,433.6 525.5,430.6 526.2,428.1 526.9,428.2 527.5,427.1 528.1,427.9 528.8,429.3 529.5,427.2 530.2,423.9 530.9,425.3 531.5,428.4 532.2,428.7 532.9,429.7 533.5,430.7 534.2,432.4 534.9,432.8 535.6,433.4 536.2,431.4 536.9,430.9 537.7,437.7 538.4,430.9 539.1,422.6 539.8,422.3 540.4,421.3 541.1,422.8 541.8,423.9 542.5,423.1 543.1,422.8 543.8,421.6 544.5,418.6 545.1,420.1 545.8,421.6 546.5,416.9 547.2,410.5 547.9,407.3 548.5,405.6 549.2,403.5 549.9,399.9 550.5,398.4 551.2,398.8 551.9,401.0 552.6,404.1 553.2,408.2 553.9,412.2 554.6,409.4 555.3,408.2 556.0,410.2 556.6,413.3 557.3,411.3 558.0,408.2 558.6,410.8 559.3,414.5 560.0,415.2 560.7,416.1 561.4,413.2 562.0,410.5 562.7,407.5 563.4,405.4 564.0,404.7 564.7,402.3 565.4,404.1 566.1,405.5 566.8,401.8 567.4,400.1 568.1,400.6 568.8,402.7 569.5,402.0 570.1,401.3 570.8,402.9 571.4,405.3 572.1,410.8 572.8,416.1 573.5,419.0 574.1,421.4 574.8,420.6 575.5,419.8 576.1,422.3 576.8,424.1 577.5,423.0 578.2,423.0 578.9,426.0 579.5,428.2 580.2,429.6 580.9,432.2 581.5,433.5 582.2,436.1 582.9,435.5 583.6,434.7 584.2,436.1 584.9,437.6 585.6,435.4 586.3,435.0 587.0,434.8 587.6,436.4 588.3,433.4 589.0,429.5 589.6,433.4 590.3,439.0 591.0,440.8 591.7,443.3 592.4,441.7 593.0,441.9 593.7,447.3 594.4,451.2 595.0,456.4 595.7,460.3 596.4,459.4 597.1,456.5 597.8,460.7 598.4,463.4 599.1,463.9 599.8,466.1 600.5,470.1 601.1,472.4 601.8,469.0 602.5,466.1 603.1,461.9 603.8,459.4 604.4,461.5 605.0,464.8 605.6,462.6 606.3,461.9 607.0,460.0 607.7,456.3 608.4,458.1 609.0,460.5 609.7,462.9 610.4,465.6 611.0,464.0 611.7,463.0 612.4,466.0 613.1,467.4 613.8,472.7 614.4,476.5 615.1,475.9 615.8,473.8 616.5,473.4 617.1,472.8 617.8,473.1 618.5,474.2 619.1,473.4 619.8,472.7 620.5,476.7 621.2,479.2 621.9,481.6 622.5,482.2 623.2,478.6 623.9,475.6 624.5,477.7 625.2,481.1 625.9,484.3 626.6,487.4 627.2,489.3 627.9,490.2 628.6,488.3 629.3,487.6 630.0,484.7 630.6,483.7 631.3,479.0 632.0,475.5 632.6,474.9 633.3,472.8 634.0,470.3 634.7,467.2 635.4,465.7 636.0,465.6 636.7,468.7 637.4,472.8 638.0,474.6 638.7,476.7 639.4,476.1 640.0,473.8 640.7,476.9 641.4,480.9 642.0,479.2 642.7,479.1 643.4,481.2 644.1,483.3 644.8,479.8 645.4,476.5 646.1,472.2 646.8,467.4 647.5,466.1 648.1,466.0 648.8,467.2 649.5,468.4 650.1,467.4 650.8,464.4 651.5,466.7 652.2,469.8 653.0,463.3 653.6,470.6 654.3,476.9 655.0,467.1 655.7,457.7 656.4,446.2 657.0,436.4 657.7,435.1 658.4,433.5 659.0,431.2 659.7,428.2 660.4,428.3 661.1,426.9 661.8,424.3 662.4,423.0 663.1,425.3 663.8,429.5 664.5,427.3 665.1,425.3 665.8,427.4 666.5,431.1 667.1,432.7 667.8,436.3 668.5,439.1 669.2,440.1 669.9,437.8 670.5,436.4 671.2,432.3 671.9,428.3 672.5,426.7 673.2,423.9 673.9,422.4 674.6,421.3 675.2,416.6 675.9,413.6 676.6,403.1 677.3,391.9 678.0,385.5 678.6,381.2 679.3,380.1 680.0,378.3 680.6,380.8 681.3,382.4 682.0,375.8 682.6,370.0 683.3,372.4 684.0,375.3 684.6,377.4 685.3,379.8 686.0,378.7 686.7,377.2 687.4,380.7 688.0,383.6 688.7,386.5 689.4,389.1 690.0,390.3 690.7,390.4 691.4,390.7 692.1,391.9 692.8,396.0 693.4,398.3 694.1,403.9 694.8,407.7 695.5,404.2 696.1,401.0 696.8,398.3 697.5,394.8 698.1,392.9 698.8,390.3 699.5,387.1 700.2,382.3 700.9,381.2 701.5,381.2 702.2,383.9 702.9,386.5 703.5,384.7 704.2,382.7 704.9,378.9 705.6,375.8 706.2,375.3 706.9,374.5 707.6,376.2 708.3,378.4 709.0,379.1 709.6,379.6 710.1,383.5" fill="none" stroke="#1f5fb4" stroke-width="1.7" stroke-linejoin="round"/>
  <polyline points="504.9,457.8 505.4,452.0 505.9,447.0 506.6,450.5 507.3,453.6 508.1,454.9 508.9,456.8 509.9,457.8 510.8,458.0 511.5,458.7 512.1,459.4 512.8,463.3 513.5,465.9 514.1,468.3 514.8,469.7 515.5,473.1 516.2,475.4 516.9,476.5 517.5,476.8 518.2,478.4 518.9,480.5 519.5,482.9 520.2,483.3 520.9,484.1 521.6,484.7 522.2,483.1 522.9,482.2 523.6,482.3 524.3,480.7 525.0,483.8 525.6,486.1 526.3,475.5 527.0,464.5 527.6,464.7 528.3,465.7 529.0,462.7 529.7,460.7 530.4,459.8 531.0,459.0 531.7,458.6 532.4,456.8 533.0,449.0 533.7,441.5 534.4,440.4 535.0,440.1 535.7,436.7 536.4,433.4 537.0,423.7 537.7,414.6 538.4,406.7 539.1,398.7 539.8,392.2 540.4,384.9 541.1,388.9 541.8,393.1 542.5,396.3 543.1,399.8 543.8,398.4 544.5,398.4 545.1,401.4 545.8,402.4 546.5,399.9 547.2,397.3 547.9,394.5 548.5,390.2 549.2,390.7 549.9,391.6 550.5,387.6 551.2,383.7 551.9,385.2 552.6,385.2 553.2,389.1 553.9,391.5 554.6,395.0 555.3,400.0 556.0,395.9 556.6,390.4 557.3,385.2 558.0,379.4 558.6,376.1 559.3,373.2 560.0,375.5 560.7,377.2 561.4,372.5 562.0,366.0 562.7,364.1 563.4,363.3 564.0,368.2 564.7,373.0 565.4,377.7 566.1,381.1 566.8,379.3 567.4,377.2 568.1,381.6 568.8,386.4 569.6,372.6 570.2,375.5 570.9,376.8 571.6,384.5 572.3,390.5 572.8,398.8 573.3,407.8 574.0,408.9 574.7,410.8 575.4,410.4 576.0,409.1 576.7,411.2 577.4,414.7 578.0,414.2 578.7,413.3 579.4,415.6 580.1,418.9 580.8,416.6 581.4,416.0 582.1,418.7 582.8,421.7 583.5,426.4 584.1,431.1 584.8,429.5 585.5,428.0 586.1,431.1 586.8,435.2 587.5,432.6 588.2,429.4 588.9,428.0 589.5,428.2 590.2,432.6 590.9,436.3 591.5,435.2 592.2,435.0 592.9,435.0 593.6,433.4 594.2,435.5 594.9,438.9 595.6,441.6 596.3,444.5 597.0,446.6 597.6,450.0 598.2,448.2 598.9,445.7 599.6,444.5 600.3,444.7 601.0,442.7 601.6,441.9 602.3,433.8 603.0,426.6 603.6,423.9 604.3,420.0 605.0,417.7 605.6,416.7 606.3,415.9 607.0,417.0 607.7,418.8 608.4,421.1 609.0,423.1 609.7,426.2 610.4,430.8 611.0,433.7 611.7,437.9 612.4,438.3 613.1,440.0 613.8,440.9 614.4,442.9 615.2,458.0 615.8,459.8 616.3,460.6 617.0,460.0 617.7,458.1 618.4,459.5 619.0,461.7 619.7,461.3 620.4,459.3 621.0,457.7 621.7,457.9 622.4,458.9 623.1,460.4 623.8,460.9 624.4,461.7 625.1,461.7 625.8,463.1 626.5,464.3 627.1,466.2 627.8,463.2 628.5,462.2 629.1,460.0 629.8,459.1 630.6,450.0 631.3,452.4 632.0,453.8 632.6,451.6 633.3,451.1 634.0,451.6 634.7,452.8 635.4,449.2 636.0,447.0 636.7,446.5 637.4,444.1 638.0,445.6 638.7,447.3 639.4,445.5 640.0,442.7 640.7,440.2 641.4,438.7 642.2,427.1 642.9,427.1 643.6,428.3 644.2,430.9 644.9,432.1 645.4,442.9 646.1,437.8 646.8,431.0 647.5,429.1 648.1,428.3 648.8,426.5 649.5,425.4 650.3,414.4 651.0,414.5 651.6,413.6 652.3,415.0 653.0,416.4 653.6,417.9 654.3,421.2 655.0,418.7 655.7,416.4 656.4,413.5 657.0,409.2 657.7,406.9 658.4,405.3 659.0,403.9 659.7,402.9 660.4,404.0 661.1,406.8 661.8,409.1 662.4,410.9 663.1,410.5 663.8,409.4 664.5,411.0 665.1,413.3 665.8,415.2 666.5,417.6 667.1,419.3 667.8,422.6 668.5,421.9 669.2,419.9 669.9,417.3 670.5,415.8 671.2,414.8 671.9,413.3 672.4,405.5 672.9,396.0 673.6,398.7 674.3,399.8 675.0,401.2 675.6,403.7 676.4,393.1 677.1,387.4 677.8,381.0 678.5,378.5 679.1,377.0 679.8,375.2 680.5,373.0 681.1,371.3 681.8,369.1 682.5,367.8 683.2,366.0 683.9,370.2 684.5,372.8 685.2,374.4 685.9,375.5 686.5,374.7 687.2,372.7 687.9,374.5 688.6,376.8 689.4,387.5 690.0,385.7 690.7,382.4 691.2,378.7 691.8,375.5 692.5,381.2 693.2,385.0 693.9,389.3 694.5,394.7 695.3,406.7 696.0,404.1 696.7,399.7 697.4,399.2 698.0,398.7 698.7,392.4 699.4,385.2 700.0,379.5 700.7,375.5 701.4,377.0 702.1,379.5 702.9,389.4 703.5,384.5 704.2,380.0 704.9,378.1 705.6,377.2 706.2,376.2 706.9,375.5 707.6,378.1 708.3,380.0 709.0,383.7 709.6,389.2 710.1,382.5" fill="none" stroke="#1c1c1c" stroke-width="1.1" stroke-linejoin="round"/>
<text x="476" y="527" font-size="10.6" fill="#222" textLength="139.7" lengthAdjust="spacingAndGlyphs" xml:space="preserve">자료 : Bloomberg, 신한은행 S&amp;T센터</text>

  <!-- logo -->
<text x="688.2" y="542.5" font-size="14" fill="url(#greboot)" font-weight="bold" textLength="56.2" lengthAdjust="spacingAndGlyphs" xml:space="preserve">RE:BOOT</text>
<text x="691.2" y="555.1" font-size="14" fill="url(#gshin)" font-weight="bold" textLength="50.9" lengthAdjust="spacingAndGlyphs" xml:space="preserve">Shinhan</text>
  <rect x="720.1" y="530.8" width="3" height="6.2" fill="#fff"/>
  <rect x="721" y="531.2" width="1.3" height="6" fill="#2f9df0"/>
</svg>
</body>
</html>
